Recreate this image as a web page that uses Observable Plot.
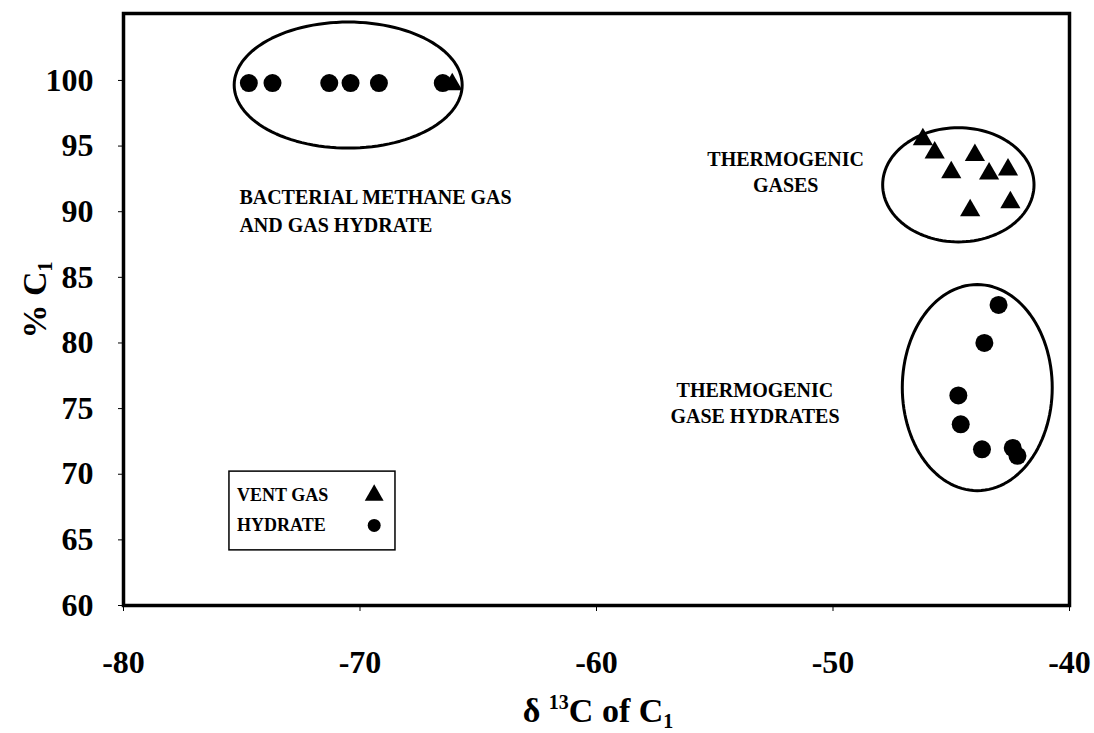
<!DOCTYPE html>
<html><head><meta charset="utf-8">
<script src="https://cdn.jsdelivr.net/npm/d3@7"></script>
<script src="https://cdn.jsdelivr.net/npm/@observablehq/plot@0.6"></script>
<style>body{margin:0;background:#fff}</style>
</head><body><div id="chart"></div>
<script>
// ---- data ----
const xTicks = [-80, -70, -60, -50, -40];
const yTicks = [60, 65, 70, 75, 80, 85, 90, 95, 100];
const ventGasD13C = [-66.1, -46.2, -45.7, -45.0, -44.0, -43.4, -42.6, -42.5, -44.2];
const ventGasC1   = [99.7, 95.5, 94.5, 93.0, 94.3, 92.9, 93.2, 90.7, 90.1];
const hydrateD13C = [-74.7, -73.7, -71.3, -70.4, -69.2, -66.5, -43.0, -43.6, -44.7, -44.6, -43.7, -42.4, -42.2];
const hydrateC1   = [99.8, 99.8, 99.8, 99.8, 99.8, 99.8, 82.9, 80.0, 76.0, 73.8, 71.9, 72.0, 71.4];
const legendLabels = ["VENT GAS", "HYDRATE"];
const legendSymbols = ["triangle", "circle"];
const groupNames = ["bacterial", "thermoGas", "thermoHydrate"];
const groupCx = [-70.5, -44.7, -43.9];
const groupCy = [99.65, 92.05, 76.6];
const groupRx = [4.82, 3.2, 3.17];
const groupRy = [4.8, 4.35, 7.85];
const groupText = [
  ["BACTERIAL METHANE GAS", "AND GAS HYDRATE"],
  ["THERMOGENIC", "GASES"],
  ["THERMOGENIC", "GASE HYDRATES"]
];
const groupTextX = [-75.1, -52.0, -53.3];
const groupTextY = [91.1, 94.0, 76.4];
const groupTextAnchor = ["start", "middle", "middle"];

// ---- build ----
const points = [
  ...ventGasD13C.map((x, i) => ({x, y: ventGasC1[i], type: "vent"})),
  ...hydrateD13C.map((x, i) => ({x, y: hydrateC1[i], type: "hydrate"}))
];
const ellipsePts = [];
groupNames.forEach((g, k) => {
  for (let t = 0; t < 120; t++) {
    const a = 2 * Math.PI * t / 120;
    ellipsePts.push({g, x: groupCx[k] + groupRx[k] * Math.cos(a), y: groupCy[k] + groupRy[k] * Math.sin(a)});
  }
});
const labelRows = [];
groupText.forEach((lines, k) => lines.forEach((text, j) => labelRows.push({
  text, x: groupTextX[k], y: groupTextY[k], line: j, anchor: groupTextAnchor[k]
})));
const legendRows = legendLabels.map((label, i) => ({label, symbol: legendSymbols[i], y: [68.4, 66.1][i]}));

const FONT = "Liberation Serif, Times New Roman, serif";
const textOpts = {fontFamily: FONT, fontWeight: "bold", fill: "black"};
const fmt = d => (d < 0 ? "-" + Math.abs(d) : String(d));

const plot = Plot.plot({
  width: 1094, height: 733,
  marginLeft: 123, marginRight: 25, marginTop: 13, marginBottom: 128,
  style: {fontFamily: FONT, background: "white", color: "black"},
  x: {domain: [-80, -40]},
  y: {domain: [60, 105.1]},
  marks: [
    Plot.axisY(yTicks, {tickSize: 5, tickPadding: 25, fontSize: 32, fontWeight: "bold", label: null, strokeWidth: 1, tickFormat: fmt}),
    Plot.axisX(xTicks, {tickSize: 6, tickPadding: 39, fontSize: 32, fontWeight: "bold", label: null, strokeWidth: 1, tickFormat: fmt}),
    Plot.frame({stroke: "black", strokeWidth: 3.5}),
    Plot.line(ellipsePts, {x: "x", y: "y", z: "g", curve: "linear-closed", stroke: "black", strokeWidth: 3}),
    Plot.dot(points.filter(d => d.type === "hydrate"), {x: "x", y: "y", r: 9, symbol: "circle", fill: "black"}),
    Plot.dot(points.filter(d => d.type === "vent"), {x: "x", y: "y", r: 7.5, symbol: "triangle", fill: "black"}),
    Plot.text(labelRows.filter(d => d.line === 0 && d.anchor === "start"), {x: "x", y: "y", text: "text", textAnchor: "start", fontSize: 20, ...textOpts}),
    Plot.text(labelRows.filter(d => d.line === 1 && d.anchor === "start"), {x: "x", y: "y", text: "text", textAnchor: "start", dy: 28, fontSize: 20, ...textOpts}),
    Plot.text(labelRows.filter(d => d.line === 0 && d.anchor === "middle"), {x: "x", y: "y", text: "text", textAnchor: "middle", fontSize: 20, ...textOpts}),
    Plot.text(labelRows.filter(d => d.line === 1 && d.anchor === "middle"), {x: "x", y: "y", text: "text", textAnchor: "middle", dy: 26, fontSize: 20, ...textOpts}),
    // legend
    Plot.rect([{}], {x1: -75.52, x2: -68.5, y1: 64.2, y2: 70.2, stroke: "black", strokeWidth: 1.5, fill: "white"}),
    Plot.text(legendRows, {x: -75.2, y: "y", text: "label", textAnchor: "start", fontSize: 18, ...textOpts}),
    Plot.dot(legendRows.filter(d => d.symbol === "triangle"), {x: -69.4, y: "y", symbol: "triangle", r: 7, fill: "black"}),
    Plot.dot(legendRows.filter(d => d.symbol === "circle"), {x: -69.4, y: "y", symbol: "circle", r: 6.5, fill: "black"})
  ]
});

const svg = d3.select(plot);
// x title
const xt = svg.append("text").attr("x", 598).attr("y", 722).attr("text-anchor", "middle")
  .attr("font-family", FONT).attr("font-weight", "bold").attr("font-size", 34).attr("fill", "black");
xt.append("tspan").text("δ ");
xt.append("tspan").text("13").attr("font-size", 20).attr("dy", -13);
xt.append("tspan").text("C of C").attr("dy", 13);
xt.append("tspan").text("1").attr("font-size", 20).attr("dy", 6);
// y title
const yt = svg.append("text").attr("transform", "translate(46,300) rotate(-90)").attr("text-anchor", "middle")
  .attr("font-family", FONT).attr("font-weight", "bold").attr("font-size", 34).attr("fill", "black");
yt.append("tspan").text("% C");
yt.append("tspan").text("1").attr("font-size", 20).attr("dy", 6);

document.getElementById("chart").appendChild(plot);
</script>
</body></html>
